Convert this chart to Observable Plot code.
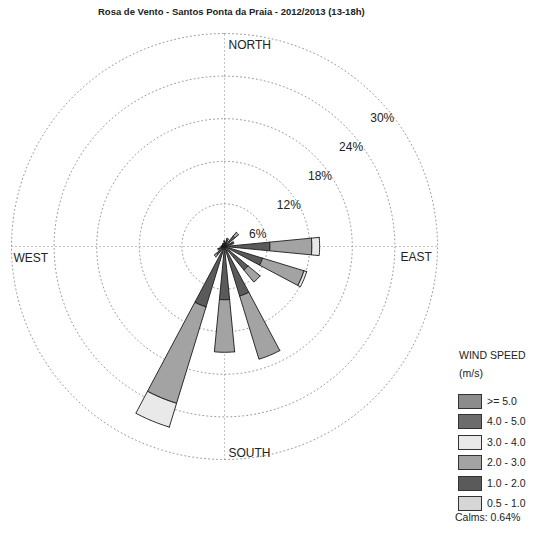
<!DOCTYPE html>
<html>
<head>
<meta charset="utf-8">
<script src="https://cdn.jsdelivr.net/npm/d3@7"></script>
<script src="https://cdn.jsdelivr.net/npm/@observablehq/plot@0.6"></script>
<style>
  html, body { margin: 0; padding: 0; overflow: hidden; background: #fff; }
  #wrap { position: relative; width: 534px; height: 539px; overflow: hidden; }
  #chart { position: absolute; left: 0; top: 0; }
  #title { position: absolute; left: 98px; top: 6px; white-space: nowrap;
           font: bold 9.5px "Liberation Sans", Arial, sans-serif; color: #222; }
  #legend { position: absolute; left: 0; top: 0; width: 534px; height: 539px; pointer-events: none;
            font-family: "Liberation Sans", Arial, sans-serif; color: #222; }
  #legend div { position: absolute; white-space: nowrap; }
  .sw { width: 22px; height: 13px; border: 1px solid #333; }
  .lt { font-size: 10.5px; transform: translateY(-50%); }
</style>
</head>
<body>
<div id="wrap">
  <div id="chart"></div>
  <div id="title"></div>
  <div id="legend"></div>
</div>
<script>
// ---- data ----
const titleText = "Rosa de Vento - Santos Ponta da Praia - 2012/2013 (13-18h)";
const directions = ["N","NNE","NE","ENE","E","ESE","SE","SSE","S","SSW","SW","WSW","W","WNW","NW","NNW"];
const speedClasses = ["0.5 - 1.0","1.0 - 2.0","2.0 - 3.0","3.0 - 4.0","4.0 - 5.0",">= 5.0"];
// frequency (%) per direction for each wind speed class (m/s)
const s05_10 = [0.3,0.4,0.5,0.4,0.8,0.7,0.6,0.7,0.8,0.8,0.5,0.4,0.3,0.2,0.2,0.3];
const s10_20 = [0.4,0.6,1.4,0.8,5.6,4.9,3.7,6.6,6.7,8.1,1.0,0.5,0.2,0.2,0.2,0.2];
const s20_30 = [0.1,0.2,0.7,0.2,5.9,6.1,2.2,9.3,7.4,14.2,0.4,0.1,0,0,0,0];
const s30_40 = [0,0,0,0,1.1,0.4,0,0,0,3.5,0,0,0,0,0,0];
const s40_50 = [0,0,0,0,0,0,0,0,0,0,0,0,0,0,0,0];
const s50_up = [0,0,0,0,0,0,0,0,0,0,0,0,0,0,0,0];
const ringValues = [6,12,18,24,30];
const ringLabels = ["6%","12%","18%","24%","30%"];
const compassNames = ["NORTH","EAST","SOUTH","WEST"];
const legendTitle = ["WIND SPEED","(m/s)"];
const calmsPct = 0.64;

// ---- styles ----
const classColors = ["#d6d6d6","#5a5a5a","#a3a3a3","#e9e9e9","#6c6c6c","#8c8c8c"];

// ---- geometry built from the data ----
const W = 534, H = 539, cx = 224, cy = 246, k = 7.1;
const series = [s05_10, s10_20, s20_30, s30_40, s40_50, s50_up];
const rad = d => d * Math.PI / 180;
const halfW = 5.5;
const polys = [];
directions.forEach((dir, i) => {
  const th = i * 22.5;
  let r0 = 0;
  series.forEach((vals, c) => {
    const v = vals[i];
    if (!(v > 0)) return;
    const r1 = r0 + v;
    const key = dir + "-" + c;
    const pts = [];
    for (let a = th - halfW; a <= th + halfW + 1e-9; a += halfW / 3) pts.push([r1, a]);
    if (r0 > 0) for (let a = th + halfW; a >= th - halfW - 1e-9; a -= halfW / 3) pts.push([r0, a]);
    else pts.push([0, th]);
    pts.push(pts[0]);
    pts.forEach(([r, a]) => polys.push({key, cls: speedClasses[c], x: r * Math.sin(rad(a)), y: r * Math.cos(rad(a))}));
    r0 = r1;
  });
});
const ringPts = ringValues.flatMap(v => d3.range(0, 361, 2).map(a => ({ring: v, x: v * Math.sin(rad(a)), y: v * Math.cos(rad(a))})));
const R = d3.max(ringValues);
const axesLines = [{x1: -R, y1: 0, x2: R, y2: 0}, {x1: 0, y1: -R, x2: 0, y2: R}];
const compass = compassNames.map((name, i) => ({name, x: R * Math.sin(rad(i * 90)), y: R * Math.cos(rad(i * 90))}));
const labA = rad(43);

const chart = Plot.plot({
  width: W, height: H, margin: 0,
  style: {background: "transparent", fontFamily: "'Liberation Sans', Arial, sans-serif"},
  x: {domain: [-cx / k, (W - cx) / k], range: [0, W], axis: null},
  y: {domain: [-(H - cy) / k, cy / k], range: [H, 0], axis: null},
  color: {domain: speedClasses, range: classColors},
  marks: [
    Plot.line(ringPts, {x: "x", y: "y", z: "ring", stroke: "#9a9a9a", strokeWidth: 1, strokeDasharray: "1,3"}),
    Plot.link(axesLines, {x1: "x1", y1: "y1", x2: "x2", y2: "y2", stroke: "#8a8a8a", strokeWidth: 1, strokeDasharray: "1,3"}),
    Plot.line(polys, {x: "x", y: "y", z: "key", fill: "cls", stroke: "#1a1a1a", strokeWidth: 0.9, strokeLinejoin: "miter"}),
    Plot.text(ringValues, {x: v => v * Math.cos(labA), y: v => v * Math.sin(labA), text: (v, i) => ringLabels[i],
      dx: 2, dy: 17, fontSize: 12, fill: "#222"}),
    Plot.text(compass.filter(d => d.name === "NORTH"), {x: "x", y: "y", text: "name", textAnchor: "start", dx: 4, dy: 12, fontSize: 12, fill: "#222"}),
    Plot.text(compass.filter(d => d.name === "SOUTH"), {x: "x", y: "y", text: "name", textAnchor: "start", dx: 4, dy: -6, fontSize: 12, fill: "#222"}),
    Plot.text(compass.filter(d => d.name === "WEST"), {x: "x", y: "y", text: "name", textAnchor: "start", dx: 2, dy: 12, fontSize: 12, fill: "#222"}),
    Plot.text(compass.filter(d => d.name === "EAST"), {x: "x", y: "y", text: "name", textAnchor: "start", dx: -37, dy: 11, fontSize: 12, fill: "#222"})
  ]
});
document.getElementById("chart").appendChild(chart);
document.getElementById("title").textContent = titleText;

// ---- legend ----
const lg = document.getElementById("legend");
function add(text, cls, left, top) {
  const d = document.createElement("div");
  if (cls) d.className = cls;
  d.style.left = left + "px"; d.style.top = top + "px";
  if (text !== null) d.textContent = text;
  lg.appendChild(d);
  return d;
}
add(legendTitle[0], "lt", 459, 355);
add(legendTitle[1], "lt", 459, 373);
const order = speedClasses.map((s, i) => i).reverse();
order.forEach((ci, row) => {
  const yc = 401 + row * 20.4;
  const sw = add(null, "sw", 458, yc - 7);
  sw.style.background = classColors[ci];
  add(speedClasses[ci], "lt", 487, yc);
});
add("Calms: " + calmsPct.toFixed(2) + "%", "lt", 455, 517);
</script>
</body>
</html>
